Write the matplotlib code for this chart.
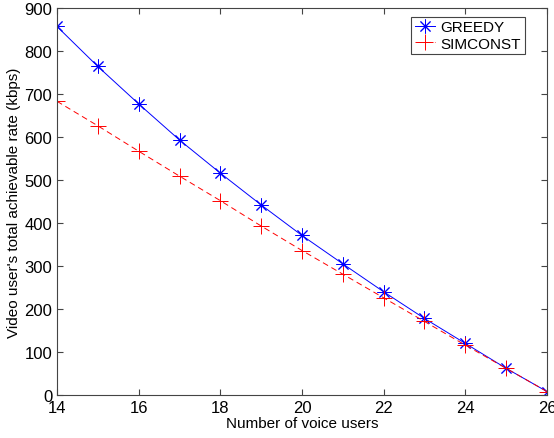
import matplotlib
matplotlib.use('Agg')
import matplotlib.pyplot as plt

plt.rcParams['font.family'] = ['Liberation Sans', 'DejaVu Sans']

voice_users = [14, 15, 16, 17, 18, 19, 20, 21, 22, 23, 24, 25, 26]
greedy = [857, 764, 677, 593, 516, 442, 371, 305, 240, 178, 120, 62, 8]
simconst = [683, 626, 567, 509, 452, 393, 336, 281, 226, 171, 116, 62, 8]

fig = plt.figure(figsize=(5.54, 4.39), dpi=100)
ax = fig.add_axes([57 / 554, 1 - 396 / 439, 490 / 554, 387 / 439])

ax.plot(voice_users, greedy, color='#0000ff', lw=0.7, marker=(8, 2, 0),
        ms=10, mew=0.7, label='GREEDY')
ax.plot(voice_users, simconst, color='#ff0000', lw=0.7, ls=(0, (6, 4)),
        marker='+', ms=11, mew=0.7, label='SIMCONST')

ax.set_xlim(14, 26)
ax.set_ylim(0, 900)
ax.set_xticks(range(14, 27, 2))
ax.set_yticks(range(0, 901, 100))
ax.tick_params(direction='in', top=True, right=True, labelsize=12, length=4,
               color='#444444')
for s in ax.spines.values():
    s.set_color('#444444')
    s.set_linewidth(0.8)

ax.set_xlabel('Number of voice users', fontsize=11, labelpad=1)
ax.set_ylabel("Video user's total achievable rate (kbps)", fontsize=11, labelpad=2)

leg = ax.legend(loc='upper right', fontsize=11, fancybox=False, framealpha=1,
                edgecolor='#444444', handlelength=1.3, handletextpad=0.4,
                borderpad=0.25, labelspacing=0.15, borderaxespad=0,
                bbox_to_anchor=(0.955, 0.978))
leg.get_frame().set_linewidth(0.8)

fig.savefig('out.png', dpi=100)
